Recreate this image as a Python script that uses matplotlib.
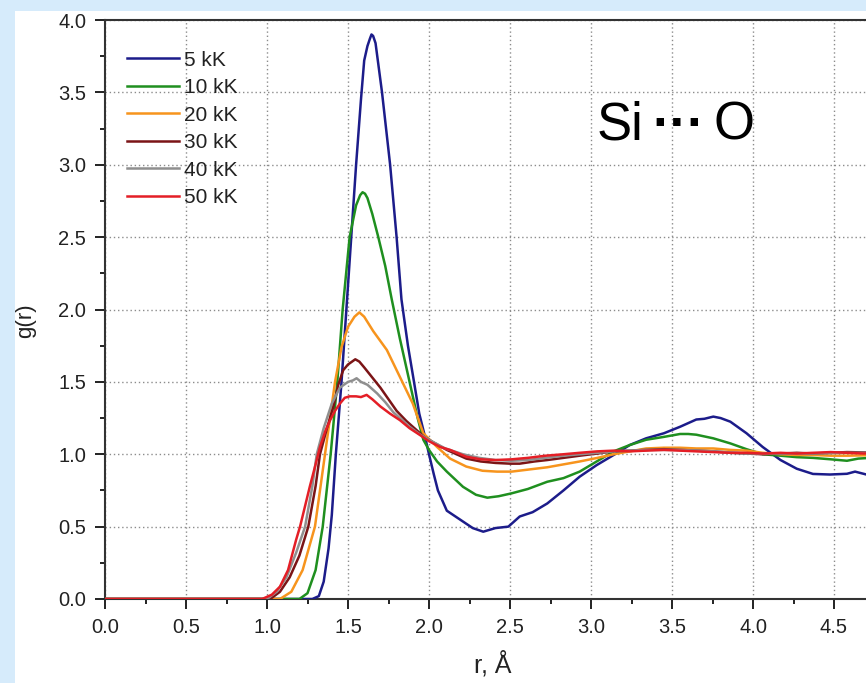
import matplotlib
matplotlib.use('Agg')
import matplotlib.pyplot as plt
from matplotlib.patches import Rectangle
from matplotlib.ticker import MultipleLocator, FormatStrFormatter

# ---------------- data ----------------
labels = ['5 kK', '10 kK', '20 kK', '30 kK', '40 kK', '50 kK']
colors = ['#1c1c8a', '#1f8f1f', '#f7941d', '#7b1416', '#8f8f8f', '#e41e26']

r_5k = [0, 1.28, 1.32, 1.35, 1.38, 1.40, 1.425, 1.46, 1.49, 1.52, 1.55, 1.58, 1.60, 1.62,
        1.635, 1.645, 1.655, 1.67, 1.71, 1.76, 1.80, 1.83, 1.87, 1.90, 1.94, 1.98, 2.0, 2.03,
        2.055, 2.11, 2.19, 2.27, 2.335, 2.41, 2.49, 2.56, 2.64, 2.73, 2.83, 2.93, 3.035, 3.14,
        3.24, 3.34, 3.45, 3.55, 3.65, 3.70, 3.755, 3.80, 3.86, 3.96, 4.06, 4.17, 4.27, 4.37,
        4.475, 4.58, 4.63, 4.70, 4.8]
g_5k = [0, 0, 0.02, 0.12, 0.35, 0.58, 1.0, 1.5, 2.0, 2.5, 3.0, 3.45, 3.72, 3.82,
        3.87, 3.9, 3.89, 3.84, 3.5, 3.0, 2.5, 2.07, 1.75, 1.55, 1.28, 1.1, 1.0, 0.86,
        0.75, 0.61, 0.55, 0.49, 0.465, 0.49, 0.50, 0.57, 0.60, 0.66, 0.75, 0.845, 0.925, 0.995,
        1.064, 1.11, 1.145, 1.19, 1.24, 1.245, 1.26, 1.25, 1.225, 1.145, 1.05, 0.96, 0.90, 0.864,
        0.86, 0.865, 0.88, 0.86, 0.86]

r_10k = [0, 1.20, 1.25, 1.30, 1.344, 1.393, 1.434, 1.467, 1.51, 1.55, 1.575, 1.59, 1.605, 1.62,
         1.65, 1.687, 1.73, 1.77, 1.82, 1.88, 1.93, 1.965, 2.0, 2.05, 2.11, 2.21, 2.29, 2.36,
         2.43, 2.51, 2.61, 2.73, 2.83, 2.93, 3.035, 3.14, 3.24, 3.34, 3.45, 3.55, 3.60, 3.65,
         3.755, 3.86, 3.96, 4.06, 4.17, 4.27, 4.37, 4.48, 4.58, 4.65, 4.8]
g_10k = [0, 0, 0.04, 0.2, 0.5, 1.0, 1.5, 2.0, 2.5, 2.72, 2.79, 2.81, 2.80, 2.77,
         2.66, 2.5, 2.3, 2.07, 1.8, 1.5, 1.25, 1.10, 1.03, 0.95, 0.88, 0.775, 0.72, 0.70,
         0.71, 0.73, 0.76, 0.81, 0.835, 0.88, 0.95, 1.02, 1.064, 1.10, 1.12, 1.14, 1.14, 1.135,
         1.11, 1.075, 1.035, 1.0, 0.99, 0.98, 0.975, 0.965, 0.955, 0.97, 0.98]

r_20k = [0, 1.08, 1.15, 1.22, 1.296, 1.358, 1.42, 1.46, 1.50, 1.54, 1.57, 1.60, 1.656, 1.74,
         1.82, 1.90, 1.965, 2.05, 2.13, 2.23, 2.33, 2.42, 2.51, 2.62, 2.73, 2.83, 2.93, 3.04,
         3.14, 3.24, 3.34, 3.45, 3.55, 3.65, 3.755, 3.86, 3.96, 4.06, 4.17, 4.27, 4.37, 4.48,
         4.58, 4.8]
g_20k = [0, 0, 0.05, 0.2, 0.5, 1.0, 1.5, 1.74, 1.88, 1.95, 1.98, 1.95, 1.85, 1.72,
         1.535, 1.35, 1.145, 1.05, 0.97, 0.915, 0.886, 0.88, 0.88, 0.895, 0.91, 0.93, 0.95, 0.975,
         1.0, 1.02, 1.04, 1.045, 1.045, 1.04, 1.04, 1.03, 1.025, 1.01, 1.0, 0.995, 0.995, 0.99,
         0.99, 0.995]

r_30k = [0, 1.02, 1.08, 1.14, 1.20, 1.255, 1.30, 1.327, 1.37, 1.41, 1.44, 1.47, 1.50, 1.545,
         1.57, 1.60, 1.65, 1.70, 1.75, 1.80, 1.86, 1.92, 1.97, 2.03, 2.11, 2.23, 2.32, 2.41,
         2.50, 2.56, 2.65, 2.73, 2.83, 2.93, 3.04, 3.14, 3.24, 3.34, 3.45, 3.55, 3.65, 3.755,
         3.86, 3.96, 4.06, 4.17, 4.27, 4.37, 4.48, 4.58, 4.8]
g_30k = [0, 0, 0.05, 0.15, 0.3, 0.5, 0.78, 1.0, 1.18, 1.33, 1.48, 1.58, 1.62, 1.656,
         1.64, 1.60, 1.53, 1.46, 1.38, 1.30, 1.23, 1.17, 1.12, 1.08, 1.03, 0.97, 0.95, 0.94,
         0.935, 0.935, 0.95, 0.96, 0.975, 0.99, 1.005, 1.02, 1.025, 1.03, 1.035, 1.03, 1.025, 1.02,
         1.01, 1.005, 1.0, 1.005, 1.01, 1.005, 1.01, 1.015, 1.01]

r_40k = [0, 1.00, 1.06, 1.12, 1.18, 1.235, 1.28, 1.307, 1.35, 1.40, 1.45, 1.50, 1.53, 1.553,
         1.58, 1.62, 1.68, 1.73, 1.78, 1.83, 1.88, 1.94, 2.0, 2.1, 2.21, 2.31, 2.41, 2.51,
         2.61, 2.72, 2.83, 2.93, 3.04, 3.14, 3.34, 3.55, 3.755, 3.96, 4.17, 4.37, 4.58, 4.8]
g_40k = [0, 0, 0.05, 0.15, 0.32, 0.5, 0.78, 1.0, 1.18, 1.35, 1.46, 1.50, 1.51, 1.525,
         1.50, 1.48, 1.42, 1.36, 1.29, 1.24, 1.19, 1.14, 1.10, 1.04, 1.0, 0.975, 0.96, 0.955,
         0.96, 0.975, 0.99, 1.0, 1.01, 1.02, 1.03, 1.03, 1.02, 1.005, 1.005, 1.005, 1.01, 1.01]

r_50k = [0, 0.97, 1.03, 1.08, 1.13, 1.18, 1.204, 1.265, 1.30, 1.327, 1.36, 1.39, 1.42, 1.45,
         1.48, 1.51, 1.55, 1.58, 1.615, 1.65, 1.70, 1.76, 1.82, 1.88, 1.944, 2.0, 2.07, 2.13,
         2.23, 2.32, 2.41, 2.51, 2.61, 2.72, 2.83, 2.93, 3.04, 3.14, 3.24, 3.34, 3.45, 3.55,
         3.65, 3.755, 3.86, 3.96, 4.06, 4.17, 4.27, 4.37, 4.48, 4.58, 4.68, 4.8]
g_50k = [0, 0, 0.03, 0.085, 0.2, 0.41, 0.5, 0.78, 0.93, 1.05, 1.16, 1.236, 1.30, 1.35,
         1.39, 1.40, 1.40, 1.395, 1.41, 1.38, 1.33, 1.28, 1.236, 1.18, 1.133, 1.09, 1.05, 1.03,
         0.983, 0.965, 0.96, 0.965, 0.975, 0.99, 1.0, 1.01, 1.02, 1.025, 1.02, 1.025, 1.03, 1.025,
         1.02, 1.015, 1.01, 1.01, 1.005, 1.01, 1.005, 1.01, 1.015, 1.01, 1.005, 1.01]

series_r = [r_5k, r_10k, r_20k, r_30k, r_40k, r_50k]
series_g = [g_5k, g_10k, g_20k, g_30k, g_40k, g_50k]

x_ticks = [0.0, 0.5, 1.0, 1.5, 2.0, 2.5, 3.0, 3.5, 4.0, 4.5]
y_ticks = [0.0, 0.5, 1.0, 1.5, 2.0, 2.5, 3.0, 3.5, 4.0]

# ---------------- figure ----------------
plt.rcParams['font.family'] = ['Liberation Sans', 'DejaVu Sans']
W, H = 866, 683
fig = plt.figure(figsize=(W / 100, H / 100), dpi=100, facecolor='#d6ebfb')
fig.add_artist(Rectangle((15 / W, 0), 1, (H - 11) / H, transform=fig.transFigure,
                         facecolor='white', edgecolor='none', zorder=-10))

AXW = 4.8 * 162
ax = fig.add_axes([105 / W, 84 / H, AXW / W, 579 / H])
ax.set_facecolor('white')

for r, g, c, lab in zip(series_r, series_g, colors, labels):
    ax.plot(r, g, color=c, lw=1.8, label=lab, zorder=3, solid_joinstyle='round')

ax.set_xlim(0, 4.8)
ax.set_ylim(0, 4.0)
ax.set_xticks(x_ticks)
ax.set_yticks(y_ticks)
ax.xaxis.set_minor_locator(MultipleLocator(0.25))
ax.yaxis.set_minor_locator(MultipleLocator(0.25))
ax.xaxis.set_major_formatter(FormatStrFormatter('%.1f'))
ax.yaxis.set_major_formatter(FormatStrFormatter('%.1f'))

ax.grid(True, which='major', color='#8c8c8c', lw=1.0, linestyle=(0, (1, 2)))
ax.tick_params(which='major', direction='out', length=7, width=1.4, labelsize=14.5,
               pad=6.5, color='#222222', labelcolor='#222222')
ax.tick_params(which='minor', direction='out', length=3.8, width=1.4, color='#222222')

for s in ['left', 'bottom', 'top']:
    ax.spines[s].set_linewidth(1.5)
    ax.spines[s].set_color('#333333')
ax.spines['right'].set_visible(False)

ax.set_ylabel('g(r)', fontsize=16, va='center', ha='center', color='#222222')
ax.yaxis.set_label_coords((26 - 105) / AXW, (599 - 321) / 579)
ax.set_xlabel('r, Å', fontsize=18, va='center', ha='center', color='#222222')
ax.xaxis.set_label_coords((493 - 105) / AXW, (599 - 664) / 579)

leg = ax.legend(loc='upper left', bbox_to_anchor=(127 / W, 1 - 50.5 / H),
                bbox_transform=fig.transFigure, frameon=False, fontsize=15,
                handlelength=2.5, handletextpad=0.22, labelspacing=0.41,
                borderpad=0, borderaxespad=0)
for t in leg.get_texts():
    t.set_color('#222222')

fig.text(597 / W, 1 - 140 / H, 'Si', fontsize=38, ha='left', va='baseline', color='black')
fig.text(678.5 / W, 1 - 121 / H, '···', fontsize=38, fontweight='bold', ha='center',
         va='center_baseline', color='black')
fig.text(755 / W, 1 - 140 / H, 'O', fontsize=38, ha='right', va='baseline', color='black')

fig.savefig('out.png', dpi=100, facecolor=fig.get_facecolor())
